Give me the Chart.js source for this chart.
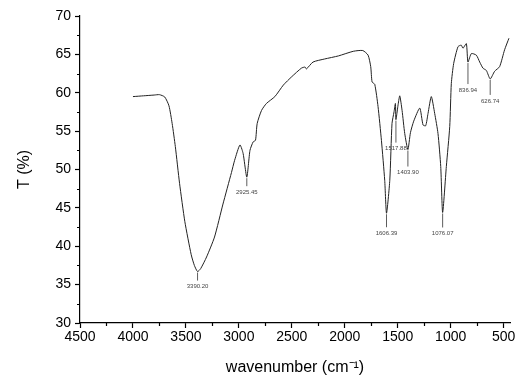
<!DOCTYPE html>
<html>
<head>
<meta charset="utf-8">
<script src="https://cdn.jsdelivr.net/npm/chart.js@4.4.1/dist/chart.umd.min.js"></script>
<style>
  html, body { margin: 0; padding: 0; background: #fff; }
  #wrap { width: 517px; height: 383px; }
</style>
</head>
<body>
<div id="wrap"><canvas id="chart"></canvas></div>
<script>
// FTIR spectrum
const wavenumbers = [4000, 3900, 3800, 3750, 3700, 3660, 3630, 3600, 3560, 3510, 3450, 3420, 3390, 3360, 3305, 3230, 3150, 3070, 3040, 2990, 2960, 2925, 2895, 2865, 2843, 2827, 2786, 2740, 2660, 2580, 2500, 2410, 2375, 2362, 2300, 2190, 2060, 1920, 1830, 1780, 1755, 1742, 1717, 1686, 1654, 1623, 1606, 1575, 1554, 1535, 1522, 1517, 1497, 1481, 1459, 1434, 1404, 1380, 1349, 1292, 1261, 1236, 1214, 1183, 1151, 1120, 1094, 1076, 1041, 1009, 994, 972, 931, 900, 884, 852, 837, 805, 758, 726, 695, 663, 627, 585, 538, 491, 450]
const transmittance = [59.5, 59.6, 59.7, 59.75, 59.45, 58.3, 56.0, 53.0, 48.2, 43.2, 38.9, 37.5, 36.7, 37.1, 38.6, 41.2, 45.5, 49.6, 51.2, 53.2, 52.1, 49.0, 52.5, 53.6, 53.8, 56.0, 57.7, 58.6, 59.5, 61.0, 62.1, 63.2, 63.35, 63.1, 64.0, 64.4, 64.8, 65.4, 65.5, 64.9, 63.4, 61.4, 61.1, 58.2, 53.8, 48.6, 44.3, 48.6, 56.0, 57.5, 58.6, 56.5, 58.4, 59.6, 57.7, 54.7, 52.6, 54.8, 56.3, 58.0, 55.8, 55.7, 57.3, 59.5, 57.3, 54.7, 50.4, 44.4, 50.4, 55.6, 61.2, 63.8, 66.0, 66.2, 65.8, 66.4, 64.0, 65.1, 64.9, 64.0, 63.2, 62.9, 61.8, 62.8, 63.4, 65.6, 67.1]

// peak annotations
const peakLabels = ['3390.20', '2925.45', '1606.39', '1517.88', '1403.90', '1076.07', '836.94', '626.74']
const peakWn = [3390, 2925, 1606, 1517, 1404, 1076, 837, 627]
const peakT = [36.7, 49.0, 44.3, 56.5, 52.6, 44.4, 64.0, 61.8]

const xTicks = [4500, 4000, 3500, 3000, 2500, 2000, 1500, 1000, 500]
const yTicks = [30, 35, 40, 45, 50, 55, 60, 65, 70]

const points = wavenumbers.map((x, i) => ({ x, y: transmittance[i] }))

// leader lengths in px, one per peak
const leaderLen = [8, 8, 13, 22, 16, 14, 21, 15]

const peakPlugin = {
  id: 'peaks',
  afterDatasetsDraw(chart) {
    const { ctx, scales: { x, y } } = chart
    ctx.save()
    ctx.strokeStyle = '#333'
    ctx.lineWidth = 0.8
    ctx.fillStyle = '#444'
    ctx.font = '6px Arial, "Liberation Sans"'
    ctx.textAlign = 'center'
    ctx.textBaseline = 'top'
    peakLabels.forEach((label, i) => {
      const px = x.getPixelForValue(peakWn[i])
      const py = y.getPixelForValue(peakT[i])
      ctx.beginPath()
      ctx.moveTo(px, py + 1)
      ctx.lineTo(px, py + 1 + leaderLen[i])
      ctx.stroke()
      ctx.fillText(label, px, py + leaderLen[i] + 4)
    })
    ctx.restore()
  }
}

// shorter minor ticks (major ones come from the scales)
const minorTicks = {
  id: 'minorTicks',
  afterDraw(chart) {
    const { ctx, scales: { x, y } } = chart
    ctx.save()
    ctx.strokeStyle = '#000'
    ctx.lineWidth = 1.2
    ctx.beginPath()
    x.ticks.forEach((t) => {
      if (xTicks.includes(t.value)) return
      const px = Math.round(x.getPixelForValue(t.value)) + 0.5
      ctx.moveTo(px, x.top)
      ctx.lineTo(px, x.top + 3)
    })
    y.ticks.forEach((t) => {
      if (yTicks.includes(t.value)) return
      const py = Math.round(y.getPixelForValue(t.value)) + 0.5
      ctx.moveTo(y.right, py)
      ctx.lineTo(y.right - 3, py)
    })
    ctx.stroke()
    ctx.restore()
  }
}

const font = { family: 'Arial, "Liberation Sans", sans-serif', size: 14 }
const axisGrid = (major) => ({
  display: true,
  drawOnChartArea: false,
  drawTicks: true,
  tickLength: 5,
  tickWidth: 1.2,
  tickColor: (c) => (major.includes(c.tick && c.tick.value) ? '#000' : 'rgba(0,0,0,0)'),
})

new Chart(document.getElementById('chart'), {
  type: 'line',
  data: {
    datasets: [{
      data: points,
      borderColor: '#222',
      borderWidth: 1,
      pointRadius: 0,
      tension: 0.2,
      fill: false,
    }],
  },
  options: {
    responsive: true,
    maintainAspectRatio: false,
    animation: false,
    layout: { padding: { top: 16, right: 7, left: 0, bottom: 0 } },
    plugins: {
      legend: { display: false },
      tooltip: { enabled: false },
    },
    scales: {
      x: {
        type: 'linear',
        reverse: true,
        min: 440,
        max: 4500,
        afterBuildTicks: (scale) => {
          const t = []
          for (let v = 4500; v >= 500; v -= 250) t.push({ value: v })
          scale.ticks = t
        },
        afterFit: (scale) => { scale.height = 60 },
        ticks: {
          color: '#000',
          font,
          padding: 1,
          maxRotation: 0,
          autoSkip: false,
          callback: (v) => (xTicks.includes(v) ? String(v) : ''),
        },
        grid: axisGrid(xTicks),
        border: { display: true, color: '#000', width: 1.2 },
        title: {
          display: true,
          text: 'wavenumber (cm⁻¹)',
          color: '#000',
          font: { family: font.family, size: 16 },
          padding: { top: 0, bottom: 6 },
        },
      },
      y: {
        type: 'linear',
        min: 30,
        max: 70,
        afterBuildTicks: (scale) => {
          const t = []
          for (let v = 30; v <= 70; v += 2.5) t.push({ value: v })
          scale.ticks = t
        },
        afterFit: (scale) => { scale.width = 80 },
        ticks: {
          color: '#000',
          font,
          padding: 4,
          autoSkip: false,
          callback: (v) => (yTicks.includes(v) ? String(v) : ''),
        },
        grid: axisGrid(yTicks),
        border: { display: true, color: '#000', width: 1.2 },
        title: {
          display: true,
          text: 'T (%)',
          color: '#000',
          font: { family: font.family, size: 16 },
          padding: { top: 15, bottom: 0 },
        },
      },
    },
  },
  plugins: [peakPlugin, minorTicks],
})
</script>
</body>
</html>
